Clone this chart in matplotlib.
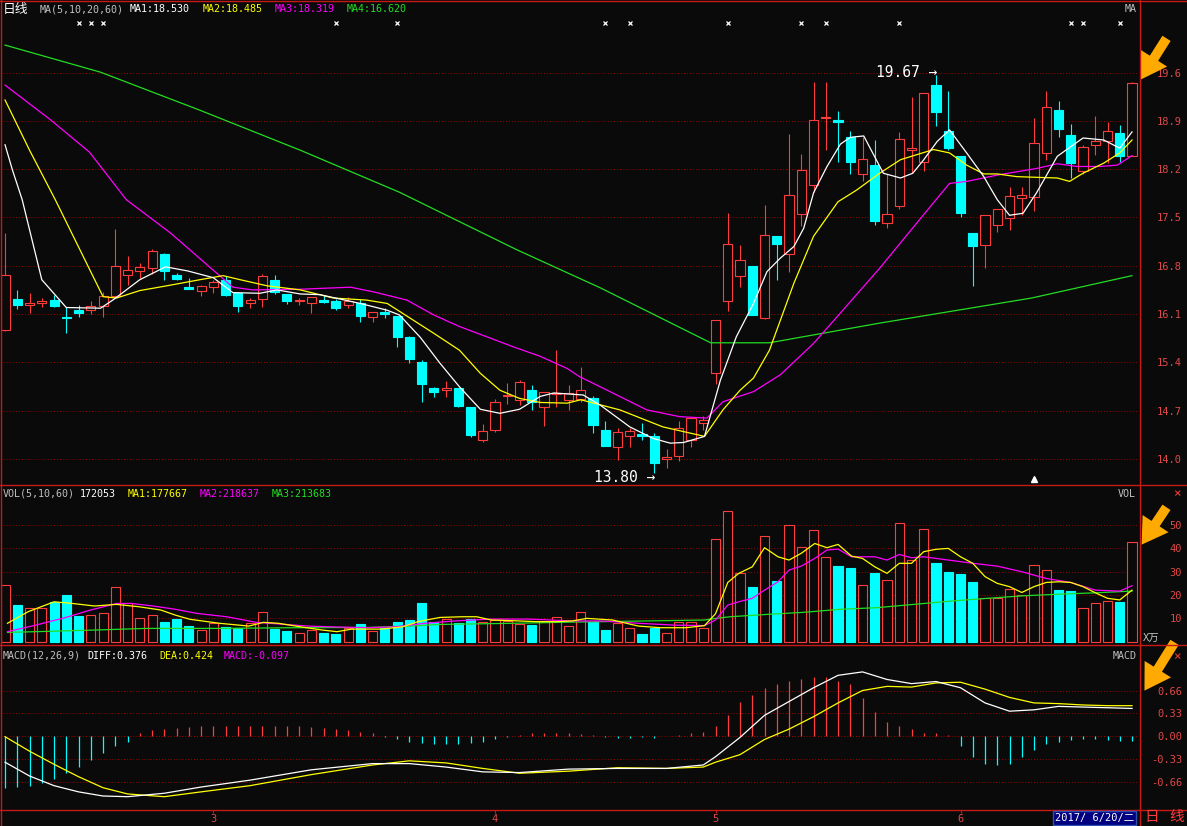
import matplotlib
matplotlib.use('Agg')
import matplotlib.pyplot as plt
from matplotlib.patches import Rectangle, FancyArrowPatch

# ---------------- daily candles ----------------
opens = [15.91, 16.37, 16.27, 16.30, 16.35, 16.10, 16.20, 16.21, 16.26, 16.41,
         16.72, 16.78, 16.83, 17.03, 16.72, 16.54, 16.49, 16.55, 16.65, 16.45,
         16.31, 16.36, 16.65, 16.44, 16.33, 16.30, 16.35, 16.34, 16.27, 16.31,
         16.10, 16.17, 16.12, 15.81, 15.44, 15.06, 15.02, 15.05, 14.78, 14.28,
         14.43, 14.93, 14.88, 15.02, 14.77, 14.96, 14.88, 14.89, 14.90, 14.43,
         14.18, 14.34, 14.37, 14.35, 14.01, 14.05, 14.29, 14.54, 15.27, 16.33,
         16.71, 16.85, 16.08, 17.30, 17.03, 17.62, 18.05, 19.03, 19.00, 18.75,
         18.21, 18.34, 17.48, 17.73, 18.56, 18.38, 19.52, 18.85, 18.47, 17.34,
         17.16, 17.45, 17.56, 17.85, 17.87, 18.52, 19.15, 18.79, 18.25, 18.64,
         18.69, 18.81, 18.48]
highs = [17.34, 16.50, 16.45, 16.38, 16.43, 16.25, 16.28, 16.34, 16.47, 17.40,
         17.00, 16.90, 17.10, 17.04, 16.75, 16.67, 16.57, 16.65, 16.71, 16.45,
         16.38, 16.74, 16.72, 16.44, 16.38, 16.40, 16.43, 16.36, 16.39, 16.36,
         16.17, 16.24, 16.12, 15.82, 15.47, 15.07, 15.15, 15.06, 14.78, 14.52,
         14.89, 15.12, 15.17, 15.10, 14.99, 15.62, 15.10, 15.37, 14.93, 14.57,
         14.47, 14.47, 14.53, 14.39, 14.16, 14.56, 14.63, 14.64, 16.06, 17.63,
         17.16, 16.85, 17.75, 17.30, 18.80, 18.50, 19.56, 19.56, 19.14, 18.84,
         18.75, 18.71, 18.21, 18.83, 19.35, 19.41, 19.67, 19.44, 18.47, 17.34,
         17.61, 17.69, 18.02, 18.02, 19.03, 19.44, 19.29, 18.95, 18.64, 19.06,
         18.98, 18.93, 19.56]
lows = [15.89, 16.22, 16.16, 16.25, 16.25, 15.86, 16.10, 16.14, 16.10, 16.38,
        16.57, 16.67, 16.74, 16.64, 16.64, 16.51, 16.41, 16.46, 16.41, 16.18,
        16.24, 16.25, 16.44, 16.29, 16.28, 16.16, 16.31, 16.20, 16.24, 16.02,
        16.03, 16.08, 15.66, 15.42, 14.84, 14.92, 14.92, 14.78, 14.33, 14.26,
        14.41, 14.82, 14.80, 14.73, 14.49, 14.78, 14.73, 14.85, 14.39, 14.20,
        13.99, 14.18, 14.29, 13.80, 13.88, 13.98, 14.18, 14.43, 15.11, 16.19,
        16.55, 16.13, 16.07, 16.64, 16.77, 17.44, 17.95, 18.56, 18.39, 18.21,
        18.10, 17.46, 17.41, 17.69, 18.23, 18.25, 18.92, 18.57, 17.57, 16.56,
        16.82, 17.36, 17.38, 17.60, 17.66, 18.42, 18.75, 18.15, 18.21, 18.49,
        18.37, 18.39, 18.48]
closes = [16.72, 16.28, 16.30, 16.34, 16.26, 16.08, 16.16, 16.26, 16.41, 16.85,
          16.79, 16.84, 17.07, 16.78, 16.66, 16.52, 16.56, 16.62, 16.43, 16.26,
          16.35, 16.71, 16.47, 16.33, 16.35, 16.39, 16.32, 16.24, 16.33, 16.11,
          16.17, 16.15, 15.80, 15.48, 15.11, 15.00, 15.05, 14.79, 14.36, 14.42,
          14.85, 14.95, 15.14, 14.85, 14.99, 14.98, 14.98, 15.03, 14.51, 14.20,
          14.41, 14.42, 14.35, 13.95, 14.04, 14.46, 14.61, 14.58, 16.06, 17.17,
          16.94, 16.13, 17.31, 17.17, 17.90, 18.27, 19.01, 19.05, 18.97, 18.38,
          18.43, 17.52, 17.62, 18.72, 18.59, 19.41, 19.13, 18.59, 17.63, 17.15,
          17.61, 17.69, 17.89, 17.90, 18.66, 19.19, 18.87, 18.37, 18.60, 18.70,
          18.85, 18.48, 19.55]

# volume, in 10k lots
vols = [24.3, 15.7, 14.3, 14.3, 16.9, 20.0, 11.1, 11.4, 12.1, 23.3,
        16.4, 10.0, 11.4, 8.4, 9.7, 6.7, 5.0, 7.9, 6.1, 5.7,
        7.9, 12.6, 5.4, 4.6, 3.6, 5.0, 3.9, 3.3, 6.0, 7.6,
        4.6, 5.7, 8.4, 9.3, 16.6, 8.6, 9.7, 8.0, 9.7, 8.6,
        9.3, 8.9, 7.4, 7.1, 8.3, 10.4, 6.7, 12.6, 8.6, 5.0,
        7.9, 5.7, 3.3, 5.7, 3.6, 8.3, 8.3, 5.7, 43.9, 56.0,
        29.3, 23.4, 45.1, 26.0, 49.9, 40.4, 47.7, 36.1, 32.4, 31.6,
        24.1, 29.4, 26.3, 50.7, 34.9, 48.1, 33.7, 29.9, 29.0, 25.6,
        18.6, 18.6, 22.4, 20.0, 32.7, 30.6, 22.1, 21.7, 14.3, 16.4,
        17.3, 17.0, 42.6]

# moving average lines (day index, value)
ma5_x = [0, 0.6, 1.4, 3.0, 5.0, 7.8, 8.8, 11.0, 13.1, 14.9, 17.0, 18.6, 20.8, 22.2, 24.1,
         25.7, 29.0, 31.2, 32.2, 33.9, 35.5, 37.1, 38.8, 40.4, 42.0, 43.7, 44.8, 47.2, 48.6,
         51.0, 52.9, 54.3, 55.4, 57.1, 58.4, 59.7, 61.1, 62.2, 63.3, 64.4, 65.2, 66.0, 67.1,
         68.2, 69.0, 70.1, 71.7, 73.1, 74.1, 75.0, 76.1, 77.1, 78.5, 79.9, 81.0, 82.0, 83.1,
         84.2, 85.9, 88.0, 89.7, 91.0, 92.0]
ma5_y = [18.64, 18.27, 17.83, 16.65, 16.24, 16.23, 16.35, 16.65, 16.84, 16.78, 16.68, 16.46,
         16.45, 16.50, 16.44, 16.43, 16.30, 16.20, 16.13, 15.80, 15.42, 15.07, 14.74, 14.68,
         14.74, 14.93, 14.98, 14.95, 14.80, 14.48, 14.31, 14.24, 14.25, 14.34, 15.17, 15.81,
         16.30, 16.77, 16.97, 17.14, 17.41, 17.93, 18.32, 18.65, 18.75, 18.77, 18.22, 18.15,
         18.22, 18.42, 18.69, 18.86, 18.52, 18.17, 17.83, 17.60, 17.63, 17.93, 18.47, 18.74,
         18.71, 18.59, 18.83]
ma10_x = [0, 2.0, 4.1, 8.0, 9.1, 11.0, 13.2, 15.9, 17.8, 19.2, 21.4, 24.1, 26.8, 29.5, 31.2,
          33.1, 35.0, 37.1, 38.8, 40.4, 42.0, 43.7, 45.9, 47.0, 50.2, 53.7, 57.1, 58.6, 60.0,
          61.1, 62.4, 64.4, 66.0, 68.0, 69.5, 71.4, 73.1, 75.8, 77.1, 78.5, 79.9, 81.0, 82.6,
          84.2, 85.9, 86.9, 88.0, 89.7, 91.0, 92.0]
ma10_y = [19.30, 18.56, 17.83, 16.40, 16.38, 16.49, 16.56, 16.65, 16.71, 16.65, 16.56, 16.50,
          16.38, 16.35, 16.30, 16.08, 15.86, 15.61, 15.27, 15.02, 14.90, 14.84, 14.83, 14.88,
          14.73, 14.48, 14.34, 14.73, 15.02, 15.20, 15.61, 16.60, 17.29, 17.80, 17.97, 18.22,
          18.42, 18.57, 18.52, 18.34, 18.21, 18.21, 18.17, 18.16, 18.15, 18.10, 18.22, 18.37,
          18.52, 18.71]
ma20_x = [0, 3.7, 6.9, 9.9, 13.5, 17.0, 18.6, 20.2, 24.1, 28.2, 30.1, 32.8, 35.0, 37.1, 39.3,
          41.5, 43.7, 45.9, 46.9, 48.6, 52.4, 55.1, 57.3, 58.6, 61.1, 63.3, 66.0, 68.2, 71.4,
          74.4, 77.1, 78.5, 81.2, 84.2, 85.9, 87.5, 89.4, 90.8, 92.0]
ma20_y = [19.52, 19.01, 18.53, 17.83, 17.34, 16.79, 16.54, 16.50, 16.51, 16.54, 16.47, 16.35,
          16.13, 15.96, 15.81, 15.66, 15.52, 15.34, 15.22, 15.07, 14.73, 14.63, 14.61, 14.85,
          15.00, 15.25, 15.71, 16.16, 16.82, 17.48, 18.07, 18.10, 18.20, 18.29, 18.36, 18.32,
          18.32, 18.34, 18.48]
ma60_x = [0, 7.8, 15.9, 24.1, 32.2, 41.8, 48.6, 57.6, 62.4, 71.4, 83.8, 92.0]
ma60_y = [20.11, 19.71, 19.15, 18.56, 17.94, 17.09, 16.53, 15.72, 15.72, 16.01, 16.38, 16.71]

# volume averages
vma5_x = [0.2, 1.9, 4.0, 5.5, 7.3, 9.1, 10.9, 12.7, 13.9, 15.1, 17.5, 19.9, 21.1, 22.3, 24.1,
          25.9, 27.1, 28.3, 30.7, 32.5, 33.7, 35.5, 37.3, 38.5, 39.7, 41.5, 43.3, 45.1, 46.3,
          47.5, 49.6, 51.7, 53.5, 55.6, 57.1, 58.0, 59.0, 59.9, 61.0, 62.0, 63.1, 64.0, 65.0,
          66.1, 67.1, 68.0, 69.1, 70.0, 71.0, 72.0, 73.0, 74.0, 75.0, 76.0, 77.0, 78.0, 79.0,
          80.0, 81.0, 82.0, 83.0, 84.0, 85.0, 86.0, 87.0, 88.0, 89.0, 90.0, 91.0, 92.0]
vma5_y = [7.9, 12.9, 17.1, 16.4, 15.3, 16.0, 15.0, 13.6, 11.4, 9.6, 7.9, 6.7, 8.3, 7.9, 6.4,
          5.0, 4.3, 5.4, 5.4, 6.4, 8.6, 10.4, 10.7, 10.7, 9.3, 9.0, 8.6, 8.6, 8.9, 10.0, 9.3,
          6.7, 6.0, 6.0, 6.9, 12.0, 25.4, 29.3, 32.1, 40.3, 36.4, 35.0, 37.9, 42.1, 40.3, 41.7,
          36.7, 35.7, 32.1, 29.3, 33.6, 33.6, 38.6, 39.6, 40.0, 36.4, 33.6, 27.9, 25.0, 23.6,
          21.1, 23.6, 25.4, 25.7, 25.4, 23.6, 21.0, 18.6, 17.9, 22.1]
vma10_x = [0.2, 2.5, 4.9, 7.0, 9.1, 10.3, 12.1, 13.9, 15.7, 18.1, 20.5, 22.9, 24.7, 26.5, 29.5,
           31.9, 34.3, 36.7, 39.7, 42.7, 46.3, 48.7, 51.7, 54.7, 57.1, 58.0, 59.0, 59.9, 61.0,
           62.0, 63.1, 64.0, 65.0, 66.1, 67.1, 68.0, 69.1, 70.0, 71.0, 72.0, 73.0, 74.0, 75.0,
           77.0, 79.0, 81.0, 83.0, 85.0, 87.0, 89.0, 91.0, 92.0]
vma10_y = [4.3, 7.1, 10.3, 13.6, 16.4, 16.4, 15.3, 13.9, 12.1, 10.7, 8.3, 7.4, 6.7, 6.4, 6.0,
           6.4, 7.9, 8.9, 9.7, 9.7, 8.9, 8.9, 7.9, 7.1, 6.9, 9.3, 15.7, 17.1, 18.6, 22.1, 25.7,
           30.7, 32.4, 35.7, 39.3, 39.7, 36.4, 36.4, 36.4, 35.0, 37.4, 36.0, 36.4, 35.0, 33.6,
           32.4, 30.0, 27.1, 25.4, 22.1, 21.7, 24.0]
vma60_x = [0.2, 2.5, 7.3, 11.5, 17.5, 23.5, 29.5, 33.1, 35.5, 41.5, 46.3, 57.1, 58.0, 59.2,
           62.2, 65.2, 68.2, 71.2, 74.2, 77.2, 80.2, 83.2, 86.2, 89.2, 92.0]
vma60_y = [4.0, 4.3, 5.0, 5.7, 5.7, 6.0, 6.1, 6.7, 7.4, 7.9, 8.4, 9.3, 10.0, 10.7, 11.7, 12.6,
           13.9, 14.6, 16.0, 17.4, 18.6, 19.7, 20.4, 21.0, 21.7]

# MACD(12,26,9)
dif_x = [0, 2, 4, 6, 8, 10, 13, 16, 20, 25, 30, 33, 36, 39, 42, 46, 50, 54, 57, 58, 60, 62,
         64, 66, 68, 70, 72, 74, 76, 78, 80, 82, 84, 86, 88, 90, 92]
dif_y = [-0.38, -0.58, -0.72, -0.81, -0.87, -0.88, -0.83, -0.74, -0.64, -0.49, -0.40, -0.40,
         -0.45, -0.52, -0.53, -0.48, -0.47, -0.47, -0.42, -0.30, -0.02, 0.30, 0.50, 0.70, 0.88,
         0.93, 0.82, 0.76, 0.79, 0.70, 0.48, 0.36, 0.38, 0.43, 0.42, 0.41, 0.40]
dea_x = dif_x
dea_y = [-0.01, -0.22, -0.41, -0.59, -0.75, -0.84, -0.88, -0.81, -0.72, -0.56, -0.42, -0.36,
         -0.39, -0.47, -0.54, -0.51, -0.46, -0.47, -0.45, -0.38, -0.27, -0.05, 0.10, 0.28,
         0.48, 0.66, 0.72, 0.71, 0.77, 0.78, 0.68, 0.56, 0.48, 0.47, 0.45, 0.44, 0.44]
macd_bar = [-0.75, -0.74, -0.72, -0.68, -0.62, -0.54, -0.45, -0.35, -0.25, -0.15, -0.08,
            0.05, 0.08, 0.10, 0.12, 0.13, 0.14, 0.15, 0.15, 0.15, 0.15, 0.15, 0.15, 0.14, 0.14,
            0.13, 0.12, 0.10, 0.08, 0.06, 0.04,
            -0.02, -0.05, -0.08, -0.10, -0.12, -0.12, -0.12, -0.10, -0.08, -0.05, -0.02,
            0.02, 0.04, 0.05, 0.05, 0.05, 0.03, 0.01, -0.02, -0.03, -0.03, -0.02, -0.03, 0.0,
            0.02, 0.04, 0.06,
            0.15, 0.30, 0.50, 0.60, 0.70, 0.75, 0.80, 0.82, 0.85, 0.85, 0.80, 0.75, 0.55, 0.35,
            0.20, 0.15, 0.10, 0.05, 0.05, 0.02,
            -0.15, -0.30, -0.40, -0.42, -0.40, -0.30, -0.20, -0.12, -0.08, -0.06, -0.05, -0.05,
            -0.06, -0.07, -0.07]

# axis ticks
price_ticks = [14.01, 14.72, 15.43, 16.14, 16.85, 17.57, 18.28, 18.99, 19.70]
price_labels = ['14.0', '14.7', '15.4', '16.1', '16.8', '17.5', '18.2', '18.9', '19.6']
vol_ticks = [10, 20, 30, 40, 50]
vol_labels = ['10', '20', '30', '40', '50']
macd_ticks = [-0.66, -0.33, 0.0, 0.33, 0.66]
macd_labels = ['-0.66', '-0.33', '0.00', '0.33', '0.66']
month_pos = [17, 40, 58, 78]
month_labels = ['3', '4', '5', '6']
info_marks = [6, 7, 8, 27, 32, 49, 51, 59, 65, 67, 73, 87, 88, 91]

BG = '#0a0a0a'
RED = '#ff3c3c'
CYAN = '#00ffff'
GRID = '#a00000'
FRAME = '#c81818'
AXTXT = '#e04848'
GREY = '#c0c0c0'
ORANGE = '#ffaa00'

plt.rcParams['font.family'] = ['DejaVu Sans Mono', 'Noto Sans CJK SC']

W, H = 1187, 826
fig = plt.figure(figsize=(W / 100, H / 100), dpi=100, facecolor=BG)


def panel(top, bottom, ylim, ticks, labels):
    ax = fig.add_axes([1 / W, 1 - bottom / H, 1138 / W, (bottom - top) / H])
    ax.set_facecolor(BG)
    for s in ax.spines.values():
        s.set_visible(False)
    ax.set_xlim(-0.33, 92.57)
    ax.set_ylim(*ylim)
    ax.yaxis.tick_right()
    ax.set_yticks(ticks, labels)
    ax.tick_params(axis='y', length=0, pad=31, labelcolor=AXTXT, labelsize=7.5)
    for t in ax.get_yticklabels():
        t.set_horizontalalignment('right')
    ax.tick_params(axis='x', bottom=False, labelbottom=False)
    for v in ticks:
        ax.axhline(v, color=GRID, lw=0.7, ls=(0, (1, 2)), zorder=0)
    return ax


ax1 = panel(1, 485, (13.623, 20.76), price_ticks, price_labels)
ax2 = panel(485, 645, (-1.41, 67.17), vol_ticks, vol_labels)
ax3 = panel(645, 810, (-1.073, 1.32), macd_ticks, macd_labels)

# candles
w = 0.74
for i in range(len(closes)):
    o, h, l, c = opens[i], highs[i], lows[i], closes[i]
    if c >= o:
        ax1.vlines(i, c, h, color=RED, lw=0.8, zorder=2)
        ax1.vlines(i, l, o, color=RED, lw=0.8, zorder=2)
        ax1.add_patch(Rectangle((i - w / 2, o), w, max(c - o, 0.012), facecolor=BG,
                                edgecolor=RED, lw=0.8, zorder=2))
        ax2.add_patch(Rectangle((i - w / 2, 0), w, vols[i], facecolor=BG,
                                edgecolor=RED, lw=0.8, zorder=2))
    else:
        ax1.vlines(i, l, h, color=CYAN, lw=0.8, zorder=2)
        ax1.add_patch(Rectangle((i - w / 2, c), w, max(o - c, 0.012), facecolor=CYAN,
                                edgecolor=CYAN, lw=0.8, zorder=2))
        ax2.add_patch(Rectangle((i - w / 2, 0), w, vols[i], facecolor=CYAN,
                                edgecolor=CYAN, lw=0.8, zorder=2))

ax1.plot(ma60_x, ma60_y, color='#22dd22', lw=0.9, zorder=3)
ax1.plot(ma20_x, ma20_y, color='#ff00ff', lw=0.9, zorder=3)
ax1.plot(ma10_x, ma10_y, color='#ffff00', lw=0.9, zorder=3)
ax1.plot(ma5_x, ma5_y, color='#ffffff', lw=0.9, zorder=3)

ax2.plot(vma60_x, vma60_y, color='#22dd22', lw=0.9, zorder=3)
ax2.plot(vma10_x, vma10_y, color='#ff00ff', lw=0.9, zorder=3)
ax2.plot(vma5_x, vma5_y, color='#ffff00', lw=0.9, zorder=3)

for i, m in enumerate(macd_bar):
    ax3.vlines(i, 0, m, color=RED if m >= 0 else CYAN, lw=0.9, zorder=2)
ax3.plot(dea_x, dea_y, color='#ffff00', lw=0.9, zorder=3)
ax3.plot(dif_x, dif_y, color='#ffffff', lw=0.9, zorder=3)

# month labels on the bottom strip
ax3.set_xticks(month_pos, month_labels)
ax3.tick_params(axis='x', bottom=True, labelbottom=True, length=2, width=0.8,
                color=FRAME, pad=1, labelcolor=AXTXT, labelsize=7.5)

# info mine marks and the little triangle
ax1.plot(info_marks, [0.955] * len(info_marks), ls='none', marker='x', ms=3.2,
         mew=0.9, color='white', transform=ax1.get_xaxis_transform())
ax1.plot([84], [0.012], ls='none', marker='^', ms=4, color='white',
         transform=ax1.get_xaxis_transform())

# high / low notes
ax1.annotate('19.67 \u2192', xy=(76, 19.67), xytext=(1, 2), textcoords='offset points',
             ha='right', va='center', color='white', fontsize=10.5)
ax1.annotate('13.80 \u2192', xy=(53, 13.80), xytext=(1, -3), textcoords='offset points',
             ha='right', va='center', color='white', fontsize=10.5)


def ftext(x, y, s, color, size=7.2, ha='left', **kw):
    fig.text(x / W, 1 - y / H, s, color=color, fontsize=size, ha=ha, va='center', **kw)


# headers
ftext(3, 9, '日线', 'white', 9.2)
ftext(40, 9, 'MA(5,10,20,60)', GREY)
ftext(130, 9, 'MA1:18.530', 'white')
ftext(203, 9, 'MA2:18.485', '#ffff00')
ftext(275, 9, 'MA3:18.319', '#ff00ff')
ftext(347, 9, 'MA4:16.620', '#22dd22')
ftext(1137, 9, 'MA', GREY, ha='right')

ftext(3, 494, 'VOL(5,10,60)', GREY)
ftext(80, 494, '172053', 'white')
ftext(128, 494, 'MA1:177667', '#ffff00')
ftext(200, 494, 'MA2:218637', '#ff00ff')
ftext(272, 494, 'MA3:213683', '#22dd22')
ftext(1136, 494, 'VOL', GREY, ha='right')
ftext(1177, 494, '\u00d7', RED, 9, ha='center')
ftext(1151, 638, 'X万', GREY, 7.5, ha='center')

ftext(3, 656, 'MACD(12,26,9)', GREY)
ftext(87, 656, 'DIFF:0.376', 'white')
ftext(159, 656, 'DEA:0.424', '#ffff00')
ftext(224, 656, 'MACD:-0.097', '#ff00ff')
ftext(1137, 656, 'MACD', GREY, ha='right')
ftext(1177, 657, '\u00d7', RED, 9, ha='center')

ftext(1055, 818, '2017/ 6/20/二', 'white', 7.5,
      bbox=dict(facecolor='#000080', edgecolor='#3050b0', pad=1.2))
ftext(1152, 817, '日', RED, 10.5, ha='center')
ftext(1177, 817, '线', RED, 10.5, ha='center')

# frame lines
for y in (485, 645, 810):
    fig.add_artist(plt.Line2D([0, 1], [1 - y / H] * 2, color=FRAME, lw=1))
fig.add_artist(plt.Line2D([1139.5 / W] * 2, [0, 1], color=FRAME, lw=1))
fig.add_artist(plt.Line2D([0.5 / W] * 2, [0, 1], color=FRAME, lw=1))
fig.add_artist(plt.Line2D([0, 1], [1 - 0.5 / H] * 2, color=FRAME, lw=1))

# orange pointer arrows
for (x0, y0), (x1, y1) in [((1168, 36), (1139, 82)), ((1168, 505), (1140, 547)),
                           ((1176, 640), (1143, 693))]:
    fig.add_artist(FancyArrowPatch((x0 / W, 1 - y0 / H), (x1 / W, 1 - y1 / H),
                                   transform=fig.transFigure,
                                   arrowstyle='simple,head_length=1.3,head_width=1.6,tail_width=0.5',
                                   mutation_scale=14, color=ORANGE, lw=0))

fig.savefig('out.png', dpi=100, facecolor=BG)
